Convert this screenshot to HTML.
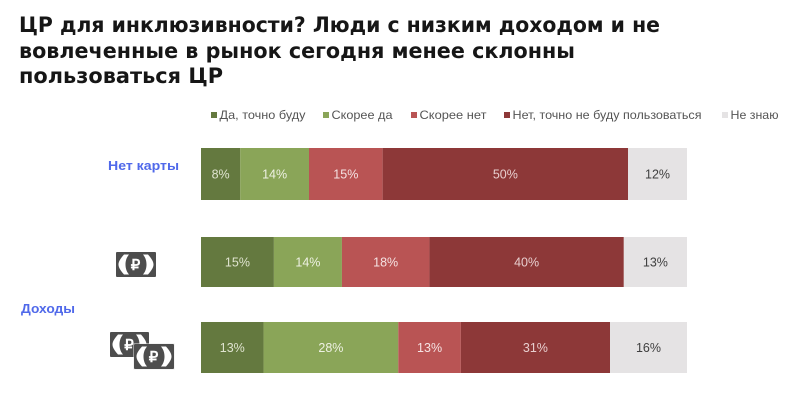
<!DOCTYPE html>
<html lang="ru">
<head>
<meta charset="utf-8">
<title>ЦР для инклюзивности?</title>
<style>
html,body{margin:0;padding:0;background:#fff;width:800px;height:404px;overflow:hidden}
svg{display:block;filter:blur(.35px)}
text{font-family:"Liberation Sans","Noto Sans CJK SC",sans-serif}
.title{font-family:"DejaVu Sans","Liberation Sans",sans-serif;font-size:21px;font-weight:700;fill:#161616}
.legend{font-size:12px;fill:#555}
.group{font-size:13px;font-weight:700;fill:#5069ea}
.val{font-size:12.5px;text-anchor:middle}
</style>
</head>
<body>
<svg id="chart" width="800" height="404" viewBox="0 0 800 404" xmlns="http://www.w3.org/2000/svg">
  <g>
    <text class="title" x="19" y="32" textLength="641" lengthAdjust="spacingAndGlyphs">ЦР для инклюзивности? Люди с низким доходом и не</text>
    <text class="title" x="19" y="58" textLength="556" lengthAdjust="spacingAndGlyphs">вовлеченные в рынок сегодня менее склонны</text>
    <text class="title" x="19" y="83" textLength="204" lengthAdjust="spacingAndGlyphs">пользоваться ЦР</text>
  </g>
  <text class="group" x="108" y="170" textLength="71" lengthAdjust="spacingAndGlyphs">Нет карты</text>
  <text class="group" x="21" y="313" textLength="54" lengthAdjust="spacingAndGlyphs">Доходы</text>
  <g id="legend"></g>
  <g id="bars"></g>

  <g transform="translate(116,252)">
    <rect width="40" height="25" rx="1" fill="#4d4d4d"/>
    <path d="M13 2.500H8C4 7 2.500 10 2.500 12.500C2.500 15 4 18 8 22.500H13C10 19 9.500 15 9.500 12.500C9.500 10 10 6 13 2.500ZM27 2.500H32C36 7 37.500 10 37.500 12.500C37.500 15 36 18 32 22.500H27C30 19 30.500 15 30.500 12.500C30.500 10 30 6 27 2.500Z" fill="#fff"/>
    <text x="19.500" y="18" text-anchor="middle" font-size="15" font-weight="700" fill="#fff">₽</text>
  </g>
  <g>
    <g transform="translate(110,332)">
      <rect width="39" height="25" rx="1" fill="#4d4d4d"/>
      <path d="M13 2.500H8C4 7 2.500 10 2.500 12.500C2.500 15 4 18 8 22.500H13C10 19 9.500 15 9.500 12.500C9.500 10 10 6 13 2.500ZM26 2.500H31C35 7 36.500 10 36.500 12.500C36.500 15 35 18 31 22.500H26C29 19 29.500 15 29.500 12.500C29.500 10 29 6 26 2.500Z" fill="#fff"/>
      <text x="19" y="18" text-anchor="middle" font-size="15" font-weight="700" fill="#fff">₽</text>
    </g>
    <g transform="translate(134,344)">
      <rect x="-0.500" y="-0.500" width="41" height="26" fill="#e8e8e8"/>
      <rect width="40" height="25" rx="1" fill="#4d4d4d"/>
      <path d="M13 2.500H8C4 7 2.500 10 2.500 12.500C2.500 15 4 18 8 22.500H13C10 19 9.500 15 9.500 12.500C9.500 10 10 6 13 2.500ZM27 2.500H32C36 7 37.500 10 37.500 12.500C37.500 15 36 18 32 22.500H27C30 19 30.500 15 30.500 12.500C30.500 10 30 6 27 2.500Z" fill="#fff"/>
      <text x="19.500" y="18" text-anchor="middle" font-size="15" font-weight="700" fill="#fff">₽</text>
    </g>
  </g>
</svg>
<script>
const categories = ['Да, точно буду', 'Скорее да', 'Скорее нет', 'Нет, точно не буду пользоваться', 'Не знаю'];
const rows = ['no-card', 'low-income', 'higher-income'];
const noCardValues = [8, 14, 15, 50, 12];
const lowIncomeValues = [15, 14, 18, 40, 13];
const higherIncomeValues = [13, 28, 13, 31, 16];
const seriesColors = ['#64793f', '#8aa558', '#b95454', '#8d3838', '#e5e3e4'];
const labelColors = ['#dfe3cf', '#eef1e3', '#f5e3e3', '#e8cfcf', '#3f3f3f'];

const NS = 'http://www.w3.org/2000/svg';
const rowValues = [noCardValues, lowIncomeValues, higherIncomeValues];
const rowBands = [[148, 52], [237, 50], [322, 51]];
const plotLeft = 201;
const plotWidth = 486;

function xScale(value, total) {
  return value / total * plotWidth;
}

const barsGroup = document.getElementById('bars');
rowValues.forEach(function (values, r) {
  const total = values.reduce(function (a, b) { return a + b; }, 0);
  let cum = 0;
  values.forEach(function (v, i) {
    const x = plotLeft + xScale(cum, total);
    const w = xScale(v, total);
    const rect = document.createElementNS(NS, 'rect');
    rect.setAttribute('x', x);
    rect.setAttribute('y', rowBands[r][0]);
    rect.setAttribute('width', w);
    rect.setAttribute('height', rowBands[r][1]);
    rect.setAttribute('fill', seriesColors[i]);
    
    
    barsGroup.appendChild(rect);
    const t = document.createElementNS(NS, 'text');
    t.setAttribute('class', 'val');
    t.setAttribute('x', x + w / 2);
    t.setAttribute('y', rowBands[r][0] + rowBands[r][1] / 2 + 4.5);
    t.setAttribute('fill', labelColors[i]);
    
    
    t.textContent = v + '%';
    barsGroup.appendChild(t);
    cum += v;
  });
});

const legendGroup = document.getElementById('legend');
const legendStarts = [211, 323, 411, 504, 722];
const legendWidths = [86, 61, 67, 189, 48];
categories.forEach(function (name, i) {
  const sw = document.createElementNS(NS, 'rect');
  sw.setAttribute('x', legendStarts[i]);
  sw.setAttribute('y', 112);
  sw.setAttribute('width', 6);
  sw.setAttribute('height', 6);
  sw.setAttribute('fill', seriesColors[i]);
  
  
  legendGroup.appendChild(sw);
  const t = document.createElementNS(NS, 'text');
  t.setAttribute('class', 'legend');
  t.setAttribute('x', legendStarts[i] + 8.5);
  t.setAttribute('y', 119);
  t.setAttribute('textLength', legendWidths[i]);
  t.setAttribute('lengthAdjust', 'spacingAndGlyphs');
  
  
  t.textContent = name;
  legendGroup.appendChild(t);
});
</script>
</body>
</html>
